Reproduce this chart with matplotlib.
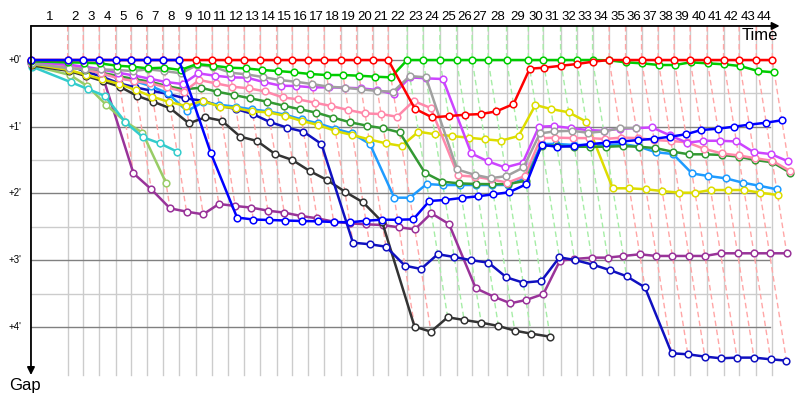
import numpy as np
import matplotlib
matplotlib.use("Agg")
import matplotlib.pyplot as plt
from matplotlib import colors as mcolors

N = None

# leader lap times in seconds, laps 1..44
lap_seconds = [209.7, 89.1, 91.4, 93.7, 87.4, 89.7, 91.4, 93.1, 98.9, 91.4,
               91.4, 91.4, 91.4, 93.7, 89.1, 91.4, 91.4, 93.7, 91.4, 91.4,
               89.1, 108.6, 91.4, 95.4, 95.4, 89.1, 91.4, 105.1, 124.6, 84.6,
               99.4, 91.4, 91.4, 94.9, 93.7, 91.4, 94.9, 91.4, 91.4, 97.1,
               93.7, 89.1, 98.3, 91.4]
lap_labels = [str(i) for i in range(1, 45)]
gap_ticks = [0, 1, 2, 3, 4]

# gap to the leader in minutes, laps 0..44 (None = not running)
gap_red = [0.0] + [0.0] * 21 + [0.73, 0.86, 0.84, 0.82, 0.81, 0.77, 0.66, 0.13,
           0.115, 0.085, 0.06, 0.025] + [0.0] * 11
gap_green = [0.02, 0.035, 0.04, 0.05, 0.085, 0.10, 0.125, 0.115, 0.15, 0.06,
             0.085, 0.115, 0.125, 0.15, 0.165, 0.185, 0.21, 0.225, 0.225, 0.235,
             0.25, 0.26] + [0.0] * 12 + [0.005, 0.035, 0.05, 0.075, 0.075, 0.035,
             0.05, 0.065, 0.09, 0.165, 0.185]
gap_gray = [0.05, 0.125, 0.135, 0.14, 0.15, 0.165, 0.14, 0.165, 0.2, 0.075,
            0.10, 0.19, 0.215, 0.255, 0.30, 0.325, 0.36, 0.40, 0.415, 0.44,
            0.464, 0.475, 0.24, 0.26, 1.64, 1.72, 1.77, 1.74, 1.61, 1.10,
            1.07, 1.06, 1.09, 1.07, 1.02, 1.02] + [N] * 9
gap_violet = [0.03, 0.07, 0.10, 0.14, 0.19, 0.23, 0.28, 0.33, 0.36, 0.20,
              0.235, 0.26, 0.265, 0.33, 0.385, 0.39, 0.41, 0.41, 0.415, 0.424,
              0.45, 0.51, 0.26, 0.275, 0.285, 1.40, 1.52, 1.61, 1.54, 1.00,
              0.99, 1.02, 1.05, 1.06, 1.03, 1.02, 1.01, 1.13, 1.24, 1.21,
              1.21, 1.22, 1.38, 1.41, 1.52]
gap_pink = [0.04, 0.09, 0.14, 0.20, 0.275, 0.315, 0.35, 0.41, 0.474, 0.30,
            0.35, 0.40, 0.424, 0.47, 0.56, 0.59, 0.64, 0.69, 0.75, 0.80,
            0.81, 0.85, 0.614, 0.72, 1.73, 1.748, 1.787, 1.838, 1.738, 1.173,
            1.163, 1.17, 1.17, 1.183, 1.163, 1.17, 1.198, 1.213, 1.233, 1.33,
            1.40, 1.43, 1.47, 1.51, 1.66]
gap_darkgreen = [0.05, 0.10, 0.15, 0.19, 0.24, 0.285, 0.325, 0.39, 0.44, 0.415,
                 0.475, 0.524, 0.574, 0.624, 0.684, 0.739, 0.789, 0.864, 0.934, 0.984,
                 1.024, 1.084, 1.69, 1.823, 1.848, 1.858, 1.86, 1.86, 1.81, 1.283,
                 1.283, 1.30, 1.30, 1.30, 1.29, 1.30, 1.32, 1.373, 1.413, 1.413,
                 1.423, 1.448, 1.498, 1.533, 1.688]
gap_yellow = [0.06, 0.15, 0.22, 0.29, 0.36, 0.45, 0.55, 0.63, 0.69, 0.61,
              0.70, 0.72, 0.77, 0.784, 0.839, 0.914, 0.974, 1.064, 1.124, 1.19,
              1.248, 1.288, 1.074, 1.113, 1.139, 1.164, 1.188, 1.209, 1.139, 0.674,
              0.734, 0.784, 0.924, 1.922, 1.922, 1.937, 1.963, 1.988, 1.988, 1.948,
              1.948, 1.948, 1.988, 2.022, N]
gap_skyblue = [0.04, 0.08, 0.13, 0.20, 0.26, 0.315, 0.39, 0.50, 0.764, 0.634,
               0.67, 0.70, 0.74, 0.77, 0.82, 0.89, 0.95, 1.03, 1.10, 1.258,
               2.063, 2.063, 1.858, 1.873, 1.873, 1.873, 1.873, 1.873, 1.773, 1.258,
               1.258, 1.273, 1.273, 1.28, 1.258, 1.30, 1.383, 1.408, 1.70, 1.738,
               1.773, 1.838, 1.883, 1.937, N]
gap_blue = [0.0] * 9 + [1.40, 2.36, 2.39, 2.397, 2.405, 2.412, 2.417, 2.427, 2.432,
            2.408, 2.393, 2.393, 2.387, 2.112, 2.097, 2.067, 2.042, 2.012, 1.982,
            1.862, 1.27, 1.30, 1.29, 1.26, 1.24, 1.22, 1.20, 1.18, 1.149,
            1.113, 1.049, 1.029, 0.999, 0.969, 0.939, 0.903]
gap_navy = [0.03, 0.08, 0.17, 0.25, 0.35, 0.41, 0.46, 0.509, 0.574, 0.61,
            0.685, 0.734, 0.809, 0.93, 1.014, 1.074, 1.258, 2.737, 2.76, 2.797,
            3.082, 3.131, 2.91, 2.951, 3.0, 3.036, 3.256, 3.336, 3.311, 2.956,
            2.996, 3.066, 3.146, 3.24, 3.406, 4.394, 4.409, 4.444, 4.469, 4.459,
            4.459, 4.484, 4.504, N, N]
gap_black = [0.08, 0.165, 0.24, 0.315, 0.40, 0.534, 0.624, 0.724, 0.949, 0.859,
             0.909, 1.149, 1.213, 1.408, 1.498, 1.663, 1.798, 1.973, 2.132, 2.422,
             3.995, 4.07, 3.855, 3.895, 3.935, 3.985, 4.055, 4.10, 4.145] + [N] * 16
gap_purple = [0.03, 0.08, 0.12, 0.16, 1.698, 1.937, 2.222, 2.272, 2.312, 2.157,
              2.187, 2.212, 2.257, 2.287, 2.337, 2.372, 2.422, 2.447, 2.462, 2.472,
              2.507, 2.537, 2.297, 2.457, 3.42, 3.546, 3.645, 3.596, 3.506, 3.007,
              2.981, 2.961, 2.961, 2.936, 2.911, 2.936, 2.936, 2.936, 2.936, 2.896,
              2.896, 2.896, 2.896, 2.896, N]
gap_turquoise = [0.10, 0.334, 0.434, 0.539, 0.934, 1.158, 1.248, 1.373] + [N] * 37
gap_olive = [0.08, 0.225, 0.39, 0.674, 0.924, 1.089, 1.838] + [N] * 38

# drawing order (later = on top); red comes before blue so ties go to red
series = [
    ("#993399", gap_purple),
    ("#99cc66", gap_olive),
    ("#33cccc", gap_turquoise),
    ("#333333", gap_black),
    ("#1010c0", gap_navy),
    ("#1e9bff", gap_skyblue),
    ("#dddd00", gap_yellow),
    ("#339933", gap_darkgreen),
    ("#ff88aa", gap_pink),
    ("#cc44ff", gap_violet),
    ("#a0a0a0", gap_gray),
    ("#00cc00", gap_green),
    ("#ff0000", gap_red),
    ("#0000ff", gap_blue),
]

T = np.concatenate([[0.0], np.cumsum(lap_seconds) / 60.0])   # minutes
gaps = [np.array(g, dtype=float) for _, g in series]
cols = [c for c, _ in series]

fig = plt.figure(figsize=(8, 4), dpi=100)
ax = fig.add_axes([0, 0, 1, 1])
ax.axis('off')
ax.set_xlim(-2.95, 73.24)
ax.set_ylim(5.094, -0.899)

top = -0.51
bottom = 4.72
right = 70.4

# grid
for t in T[1:]:
    ax.plot([t, t], [top, bottom], color='#cccccc', lw=1, zorder=1)
for g in [0.5, 1.5, 2.5, 3.5]:
    ax.plot([0, right], [g, g], color='#cccccc', lw=1, zorder=1)
for g in gap_ticks:
    ax.plot([0, right], [g, g], color='#808080', lw=1, zorder=1)

# lap lines (dashed), coloured by lap leader
for i in range(1, len(T)):
    vals = [g[i] for g in gaps]
    ok = [j for j, v in enumerate(vals) if not np.isnan(v)]
    lead = min(ok, key=lambda j: vals[j])
    gmax = max(vals[j] for j in ok)
    light = np.array(mcolors.to_rgb(cols[lead])) * 0.35 + 0.65
    ax.plot([T[i], T[i], T[i] + gmax], [top, 0, gmax], color=light, lw=1,
            ls=(0, (4, 2.5)), zorder=2)

# cars
for k, (c, g) in enumerate(zip(cols, gaps)):
    ax.plot(T + g, g, '-o', color=c, lw=1.8, ms=4.8, mfc='white', mec=c,
            mew=1.1, zorder=3 + k)

# axes with arrows
arrow = dict(arrowstyle='-|>', color='black', lw=1.3, mutation_scale=11,
             shrinkA=0, shrinkB=0)
ax.annotate('', xy=(71.3, top), xytext=(0, top), arrowprops=arrow, zorder=30)
ax.annotate('', xy=(0, 4.72), xytext=(0, top), arrowprops=arrow, zorder=30)

ax.text(69.4, -0.37, 'Time', fontsize=12, ha='center', va='center',
        family='Liberation Sans', zorder=31)
ax.text(-0.6, 4.87, 'Gap', fontsize=12, ha='center', va='center',
        family='Liberation Sans', zorder=31)

for i, lab in enumerate(lap_labels):
    ax.text((T[i] + T[i + 1]) / 2, -0.645, lab, fontsize=9.5, ha='center',
            va='center', family='Liberation Sans')

for g in gap_ticks:
    ax.text(-1.5, g, "+%d'" % g, fontsize=7, ha='center', va='center',
            family='Liberation Sans')

fig.savefig('out.png', dpi=100)
